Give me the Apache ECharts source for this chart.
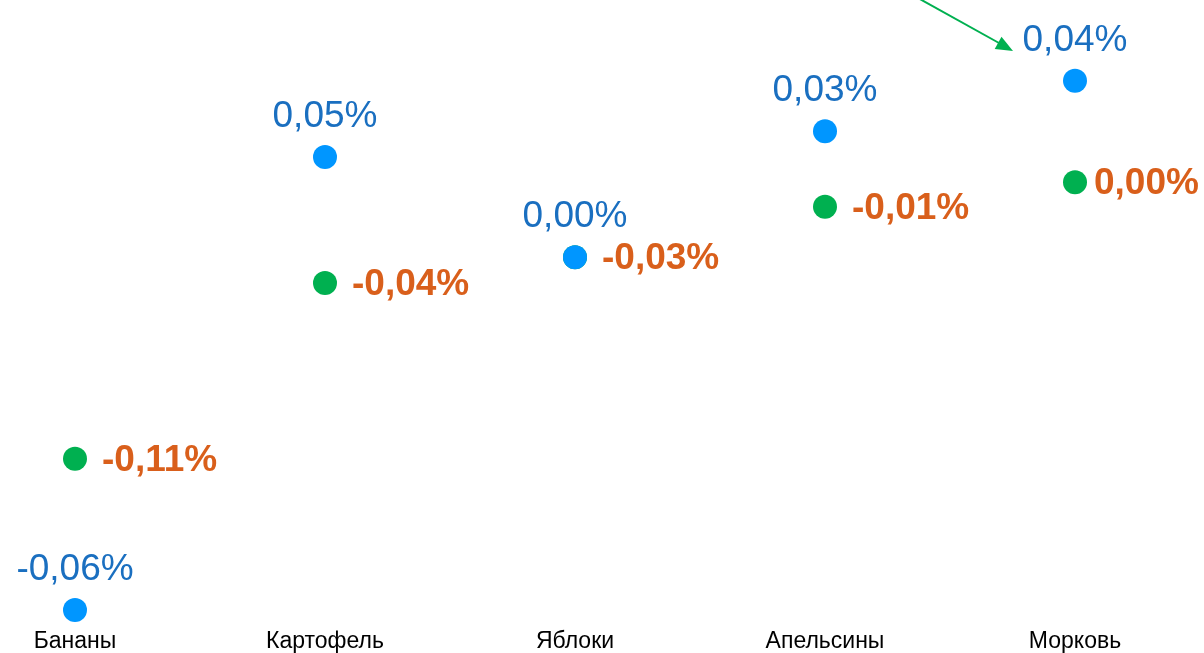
<!DOCTYPE html>
<html lang="ru">
<head>
    <meta charset="UTF-8">
    <title>Dot chart</title>
    <script src="https://cdn.jsdelivr.net/npm/echarts@6/dist/echarts.min.js"></script>
</head>
<body style="margin:0;">
    <div id="main" style="width: 1204px; height: 653px; background: #fff;"></div>
    <script>
        // categories
        const categories = ['Бананы', 'Картофель', 'Яблоки', 'Апельсины', 'Морковь'];
        // dot heights (arbitrary scale 0..100)
        const blueValues = [2.5, 78, 61.3, 82.3, 90.7];
        const greenValues = [27.7, 57, 61.3, 69.7, 73.8];
        // text shown next to the dots
        const blueLabels = ['-0,06%', '0,05%', '0,00%', '0,03%', '0,04%'];
        const greenLabels = ['-0,11%', '-0,04%', '-0,03%', '-0,01%', '0,00%'];

        const myChart = echarts.init(document.getElementById('main'));

        const font = '"Liberation Sans", Arial, sans-serif';

        const option = {
            animation: false,
            grid: { left: 75, right: 129, top: 25, bottom: 28 },
            xAxis: {
                type: 'category',
                data: categories,
                boundaryGap: false,
                axisLine: { show: false },
                axisTick: { show: false },
                splitLine: { show: false },
                axisLabel: { color: '#000', fontSize: 23, fontFamily: font, margin: 5, interval: 0 }
            },
            yAxis: {
                type: 'value',
                min: 0,
                max: 100,
                show: false
            },
            series: [
                {
                    name: 'green',
                    type: 'scatter',
                    symbolSize: 24,
                    itemStyle: { color: '#00B050', opacity: 1 },
                    data: greenValues.map(function (v, i) {
                        return {
                            value: v,
                            label: i === greenValues.length - 1 ? { distance: 7 } : undefined
                        };
                    }),
                    label: {
                        show: true,
                        position: 'right',
                        distance: 15,
                        offset: [0, 2],
                        color: '#D95F1B',
                        fontSize: 37,
                        fontWeight: 'bold',
                        fontFamily: font,
                        formatter: function (p) { return greenLabels[p.dataIndex]; }
                    }
                },
                {
                    name: 'blue',
                    type: 'scatter',
                    symbolSize: 24,
                    itemStyle: { color: '#0096FF', opacity: 1 },
                    data: blueValues,
                    label: {
                        show: true,
                        position: 'top',
                        distance: 10,
                        color: '#1A6FC0',
                        fontSize: 37,
                        fontFamily: font,
                        formatter: function (p) { return blueLabels[p.dataIndex]; }
                    }
                }
            ],
            // green annotation arrow at the top right
            graphic: [
                {
                    type: 'line',
                    shape: { x1: 918, y1: -2, x2: 999, y2: 43 },
                    style: { stroke: '#00B050', lineWidth: 2 }
                },
                {
                    type: 'polygon',
                    shape: { points: [[1013, 51], [994.7, 48.9], [1001.5, 36.7]] },
                    style: { fill: '#00B050' }
                }
            ]
        };

        myChart.setOption(option);
    </script>
</body>
</html>
